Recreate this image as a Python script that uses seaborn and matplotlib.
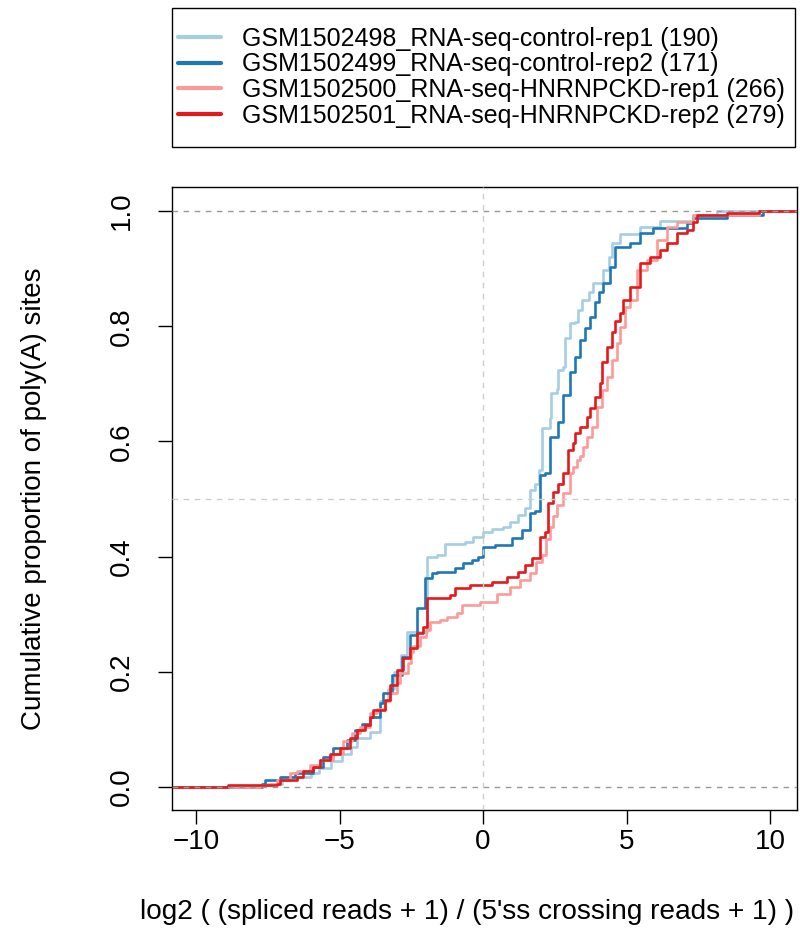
import numpy as np
import pandas as pd
import matplotlib.pyplot as plt
import seaborn as sns
from matplotlib.patches import Rectangle

# sample names and number of poly(A) sites per sample
samples = ["GSM1502498_RNA-seq-control-rep1", "GSM1502499_RNA-seq-control-rep2",
           "GSM1502500_RNA-seq-HNRNPCKD-rep1", "GSM1502501_RNA-seq-HNRNPCKD-rep2"]
counts = [190, 171, 266, 279]

# ECDF step knots (x where the step happens, level after it)
ctrl1_x = [-7.7, -7.0, -6.0, -5.7, -5.3, -4.9, -4.6, -4.4, -3.95, -3.6, -3.3, -3.1, -2.85,
           -2.65, -1.96, -1.61, -1.32, -0.63, -0.35, 0.0, 0.3, 0.7, 0.94, 1.23, 1.46, 1.64,
           1.81, 1.95, 2.04, 2.33, 2.38, 2.57, 2.62, 2.8, 2.85, 3.03, 3.2, 3.3, 3.45, 3.7,
           3.83, 4.18, 4.4, 4.5, 4.77, 5.47, 6.17, 7.3, 8.15]
ctrl1_y = [0.005, 0.018, 0.024, 0.033, 0.045, 0.058, 0.07, 0.085, 0.096, 0.15, 0.17, 0.20, 0.23,
           0.27, 0.40, 0.403, 0.422, 0.426, 0.434, 0.443, 0.448, 0.452, 0.46, 0.472, 0.484, 0.516,
           0.527, 0.55, 0.623, 0.64, 0.684, 0.692, 0.724, 0.73, 0.78, 0.805, 0.808, 0.828, 0.845, 0.86,
           0.875, 0.898, 0.92, 0.944, 0.96, 0.972, 0.983, 0.993, 1.0]

ctrl2_x = [-7.7, -7.6, -7.07, -6.55, -5.92, -5.57, -5.23, -4.75, -4.46, -4.23, -3.94, -3.59,
           -3.48, -3.18, -2.83, -2.54, -2.31, -2.02, -1.79, -1.6, -0.97, -0.69, -0.39, -0.17,
           0.0, 0.42, 1.0, 1.35, 1.64, 1.81, 1.99, 2.16, 2.33, 2.62, 2.8, 3.03, 3.2, 3.38, 3.55,
           3.73, 3.9, 4.05, 4.18, 4.42, 4.6, 5.12, 5.47, 5.92, 7.1, 7.3, 8.5, 9.76]
ctrl2_y = [0.006, 0.012, 0.018, 0.024, 0.035, 0.052, 0.067, 0.081, 0.099, 0.11, 0.122, 0.146,
           0.163, 0.194, 0.226, 0.264, 0.31, 0.363, 0.371, 0.374, 0.38, 0.389, 0.394, 0.40,
           0.416, 0.42, 0.432, 0.446, 0.475, 0.48, 0.542, 0.545, 0.608, 0.634, 0.681, 0.72, 0.747,
           0.776, 0.797, 0.816, 0.842, 0.86, 0.875, 0.903, 0.938, 0.944, 0.962, 0.97, 0.979, 0.988,
           0.993, 1.0]

kd1_x = [-7.77, -7.42, -7.19, -6.72, -6.49, -6.03, -5.68, -5.23, -4.88, -4.57, -4.29, -3.94,
         -3.7, -3.4, -3.24, -3.0, -2.89, -2.61, -2.5, -2.44, -2.2, -2.0, -1.85, -1.5, -1.27,
         -0.92, -0.74, -0.1, 0.48, 0.94, 1.29, 1.64, 1.85, 2.04, 2.2, 2.33, 2.45, 2.57, 2.8,
         3.03, 3.14, 3.26, 3.38, 3.48, 3.61, 3.79, 3.96, 4.14, 4.31, 4.48, 4.66, 4.77, 4.95,
         5.12, 5.37, 5.71, 6.06, 6.41, 6.76, 7.32, 9.6]
kd1_y = [0.003, 0.006, 0.012, 0.024, 0.027, 0.038, 0.047, 0.058, 0.079, 0.093, 0.105, 0.128,
         0.135, 0.15, 0.163, 0.18, 0.198, 0.215, 0.235, 0.245, 0.261, 0.273, 0.287, 0.29, 0.296,
         0.302, 0.316, 0.322, 0.336, 0.347, 0.359, 0.371, 0.39, 0.403, 0.43, 0.452, 0.47, 0.49, 0.51,
         0.545, 0.556, 0.568, 0.575, 0.59, 0.608, 0.625, 0.66, 0.689, 0.712, 0.741, 0.771, 0.799, 0.833,
         0.845, 0.898, 0.915, 0.95, 0.972, 0.981, 0.993, 1.0]

kd2_x = [-8.89, -7.19, -7.07, -6.49, -6.27, -5.92, -5.68, -5.33, -4.98, -4.63, -4.4, -4.11,
         -3.94, -3.83, -3.41, -3.24, -3.0, -2.78, -2.54, -2.31, -2.1, -1.96, -1.15, -0.97, -0.45,
         0.3, 0.83, 1.23, 1.46, 1.7, 1.99, 2.16, 2.28, 2.45, 2.62, 2.8, 2.97, 3.14, 3.2, 3.38,
         3.61, 3.73, 3.9, 4.08, 4.14, 4.31, 4.48, 4.6, 4.77, 4.88, 5.12, 5.47, 5.82, 6.17, 6.41,
         6.76, 7.1, 7.32, 7.45, 8.5, 9.6]
kd2_y = [0.003, 0.006, 0.012, 0.018, 0.027, 0.035, 0.047, 0.058, 0.067, 0.085, 0.099, 0.108,
         0.122, 0.134, 0.151, 0.177, 0.203, 0.224, 0.241, 0.267, 0.278, 0.328, 0.333, 0.345, 0.35,
         0.356, 0.365, 0.373, 0.385, 0.397, 0.434, 0.443, 0.493, 0.512, 0.527, 0.545, 0.585, 0.597,
         0.614, 0.625, 0.643, 0.658, 0.677, 0.701, 0.738, 0.764, 0.79, 0.81, 0.823, 0.845, 0.868,
         0.91, 0.92, 0.932, 0.944, 0.962, 0.967, 0.981, 0.993, 0.997, 1.0]

xticks = [-10, -5, 0, 5, 10]
yticks = [0.0, 0.2, 0.4, 0.6, 0.8, 1.0]
XLIM = (-10.84, 10.94)
YLIM = (-0.04, 1.042)

sns.set_theme(style="ticks")
plt.rcParams['font.family'] = ['Liberation Sans', 'DejaVu Sans']
plt.rcParams['text.color'] = 'black'
plt.rcParams['axes.labelcolor'] = 'black'

# long-form table, curves run out to the plot edges like R's plot.ecdf
rows = []
for name, n, xs, ys in zip(samples, counts, [ctrl1_x, ctrl2_x, kd1_x, kd2_x],
                           [ctrl1_y, ctrl2_y, kd1_y, kd2_y]):
    lab = f"{name} ({n})"
    xs = [XLIM[0] - 1] + xs + [XLIM[1] + 1]
    ys = [0.0] + ys + [1.0]
    rows.append(pd.DataFrame({"x": xs, "y": ys, "label": lab}))
df = pd.concat(rows, ignore_index=True)

paired = sns.color_palette("Paired")
colors = [paired[0], paired[1], paired[4], paired[5]]

fig = plt.figure(figsize=(8, 9.36), dpi=100)
ax = fig.add_axes([172/800, 126/936, 625/800, 623/936])

sns.lineplot(data=df, x="x", y="y", hue="label", palette=colors,
             drawstyle="steps-post", estimator=None, lw=1.9, ax=ax)
handles, labels = ax.get_legend_handles_labels()
ax.get_legend().remove()

# reference lines
for yv in [0, 1]:
    ax.axhline(yv, color="#999999", lw=1, ls=(0, (4, 4)), zorder=5)
ax.axhline(0.5, color="#cccccc", lw=1, ls=(0, (4, 4)), zorder=5)
ax.axvline(0, color="#cccccc", lw=1, ls=(0, (4, 4)), zorder=5)

ax.set_xlim(*XLIM)
ax.set_ylim(*YLIM)
ax.set_xticks(xticks)
ax.set_yticks(yticks)
ax.set_xticklabels([f"{t}".replace("-", "\u2212") for t in xticks])
ax.set_yticklabels([f"{t:.1f}" for t in yticks], rotation=90, va="center")
ax.tick_params(axis="both", direction="out", length=10, width=1, color="black",
               labelsize=20, labelcolor="black")
ax.tick_params(axis="x", pad=4)
ax.tick_params(axis="y", pad=17)
for s in ax.spines.values():
    s.set_visible(True)
    s.set_color("black")
    s.set_linewidth(1)

ax.set_xlabel("log2 ( (spliced reads + 1) / (5'ss crossing reads + 1) )", fontsize=20.2, va="center")
ax.xaxis.set_label_coords(0.472, -0.164)
ax.set_ylabel("Cumulative proportion of poly(A) sites", fontsize=20, va="center")
ax.yaxis.set_label_coords(-0.22, 0.5)

# legend box above the plot
fig.patches.append(Rectangle((172/800, 1 - 147/936), 623/800, 139/936, transform=fig.transFigure,
                             fill=False, edgecolor="black", lw=1))
for h in handles:
    h.set_linewidth(3)
fig.legend(handles, labels, loc="upper left", bbox_to_anchor=(178/800, 1 - 27/936),
           frameon=False, fontsize=18, borderpad=0, borderaxespad=0, labelspacing=0.06,
           handlelength=1.72, handletextpad=0.82)

fig.savefig("out.png", dpi=100)
